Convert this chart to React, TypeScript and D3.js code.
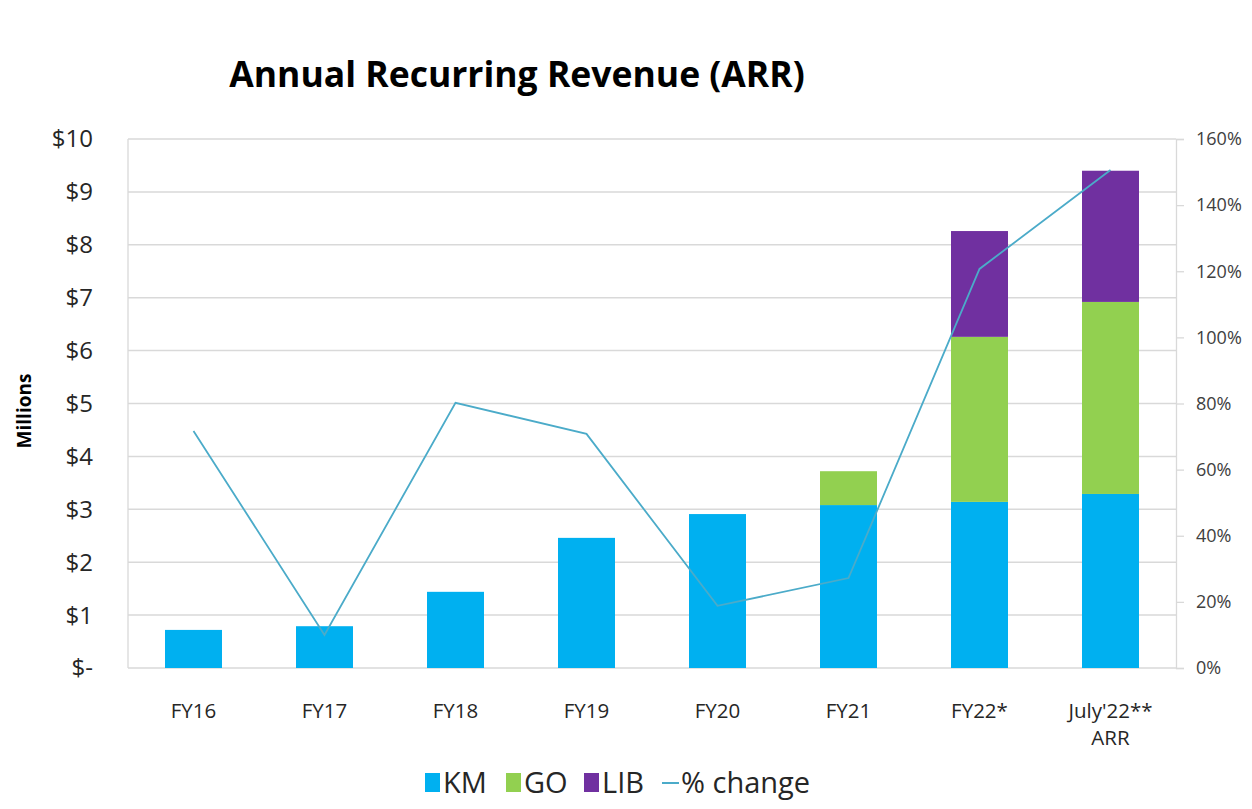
import React, { useEffect, useRef } from "react";
import * as d3 from "d3";

const categories = ["FY16", "FY17", "FY18", "FY19", "FY20", "FY21", "FY22*", "July'22**\nARR"];
const kmValues = [0.72, 0.79, 1.44, 2.46, 2.91, 3.08, 3.14, 3.29];
const goValues = [0, 0, 0, 0, 0, 0.64, 3.12, 3.63];
const libValues = [0, 0, 0, 0, 0, 0, 2.0, 2.48];
const pctChange = [71.7, 10, 80.2, 70.8, 18.8, 27.2, 120.7, 150.6];
const leftTicks = [0, 1, 2, 3, 4, 5, 6, 7, 8, 9, 10];
const rightTicks = [0, 20, 40, 60, 80, 100, 120, 140, 160];
const seriesNames = ["KM", "GO", "LIB"];
const seriesColors = ["#00b0f0", "#92d050", "#7030a0"];
const lineColor = "#4babc9";

const FONT = "'Open Sans', Lato, sans-serif";

export default function App() {
  const ref = useRef<SVGSVGElement>(null);

  useEffect(() => {
    const svg = d3.select(ref.current);
    svg.selectAll("*").remove();
    const W = 1252, H = 809;
    const left = 128, right = 1176, top = 139, bottom = 668;

    const x = d3.scaleBand().domain(categories).range([left, right]).paddingInner(0.565).paddingOuter(0.2825);
    const y = d3.scaleLinear().domain([0, 10]).range([bottom, top]);
    const y2 = d3.scaleLinear().domain([0, 160]).range([bottom, top]);

    svg.append("rect").attr("width", W).attr("height", H).attr("fill", "#fff");

    // gridlines
    svg.append("g").selectAll("line").data(leftTicks.slice(1)).join("line")
      .attr("x1", left).attr("x2", right)
      .attr("y1", d => y(d)).attr("y2", d => y(d))
      .attr("stroke", "#d9d9d9").attr("stroke-width", 1.5);

    // left axis line
    svg.append("line").attr("x1", left).attr("x2", left).attr("y1", top).attr("y2", bottom)
      .attr("stroke", "#d9d9d9").attr("stroke-width", 1.3);
    // bottom axis line
    svg.append("line").attr("x1", left).attr("x2", right).attr("y1", bottom).attr("y2", bottom)
      .attr("stroke", "#d9d9d9").attr("stroke-width", 1.5);

    // right axis
    const ra = svg.append("g").attr("transform", `translate(${right},0)`)
      .call(d3.axisRight(y2).tickValues(rightTicks).tickSize(8).tickPadding(12).tickFormat(d => `${d}%`));
    ra.select(".domain").attr("stroke", "#d9d9d9").attr("stroke-width", 1.3);
    ra.selectAll(".tick line").attr("stroke", "#d9d9d9").attr("stroke-width", 1.3);
    ra.selectAll(".tick text").attr("font-family", FONT).attr("font-size", 18).attr("fill", "#404040");

    // left tick labels
    svg.append("g").selectAll("text").data(leftTicks).join("text")
      .attr("x", 93).attr("y", d => y(d)).attr("dy", "0.35em")
      .attr("text-anchor", "end").attr("font-family", FONT).attr("font-size", 24).attr("fill", "#262626")
      .text(d => d === 0 ? "$-" : `$${d}`);

    // stacked bars
    const rows = categories.map((c, i) => ({ cat: c, KM: kmValues[i], GO: goValues[i], LIB: libValues[i] }));
    const stack = d3.stack<any>().keys(seriesNames)(rows);
    stack.forEach((layer, si) => {
      svg.append("g").selectAll("rect").data(layer).join("rect")
        .attr("x", d => x(d.data.cat)!)
        .attr("width", x.bandwidth())
        .attr("y", d => y(d[1]))
        .attr("height", d => Math.max(0, y(d[0]) - y(d[1])))
        .attr("fill", seriesColors[si]);
    });

    // line
    const line = d3.line<number>()
      .x((_, i) => x(categories[i])! + x.bandwidth() / 2)
      .y(d => y2(d));
    svg.append("path").datum(pctChange).attr("d", line).attr("fill", "none")
      .attr("stroke", lineColor).attr("stroke-width", 1.8);

    // x labels
    categories.forEach(c => {
      const lines = c.split("\n");
      const t = svg.append("text").attr("x", x(c)! + x.bandwidth() / 2).attr("y", 718)
        .attr("text-anchor", "middle").attr("font-family", FONT).attr("font-size", 20.5).attr("fill", "#262626");
      lines.forEach((l, i) => t.append("tspan").attr("x", x(c)! + x.bandwidth() / 2).attr("dy", i === 0 ? 0 : 27).text(l));
    });

    // title
    svg.append("text").attr("x", 517).attr("y", 87).attr("text-anchor", "middle")
      .attr("font-family", FONT).attr("font-weight", "bold").attr("font-size", 35.5).attr("fill", "#000")
      .text("Annual Recurring Revenue (ARR)");

    // y label
    svg.append("text").attr("transform", "translate(31,411) rotate(-90)").attr("text-anchor", "middle")
      .attr("font-family", FONT).attr("font-weight", "bold").attr("font-size", 19).attr("fill", "#000")
      .text("Millions");

    // legend
    const lg = svg.append("g");
    const items = [
      { name: "KM", color: seriesColors[0], x: 425, type: "rect" },
      { name: "GO", color: seriesColors[1], x: 506, type: "rect" },
      { name: "LIB", color: seriesColors[2], x: 584, type: "rect" },
      { name: "% change", color: lineColor, x: 662, type: "line" },
    ];
    items.forEach(it => {
      if (it.type === "rect") {
        lg.append("rect").attr("x", it.x).attr("y", 773).attr("width", 15).attr("height", 19).attr("fill", it.color);
      } else {
        lg.append("line").attr("x1", it.x).attr("x2", it.x + 17).attr("y1", 783).attr("y2", 783)
          .attr("stroke", it.color).attr("stroke-width", 2);
      }
      lg.append("text").attr("x", it.x + (it.type === "rect" ? 18 : 19)).attr("y", 793)
        .attr("font-family", FONT).attr("font-size", 29).attr("fill", "#262626").text(it.name);
    });
  }, []);

  return <svg ref={ref} width={1252} height={809} style={{ display: "block", position: "absolute", left: 0, top: 0 }} />;
}
